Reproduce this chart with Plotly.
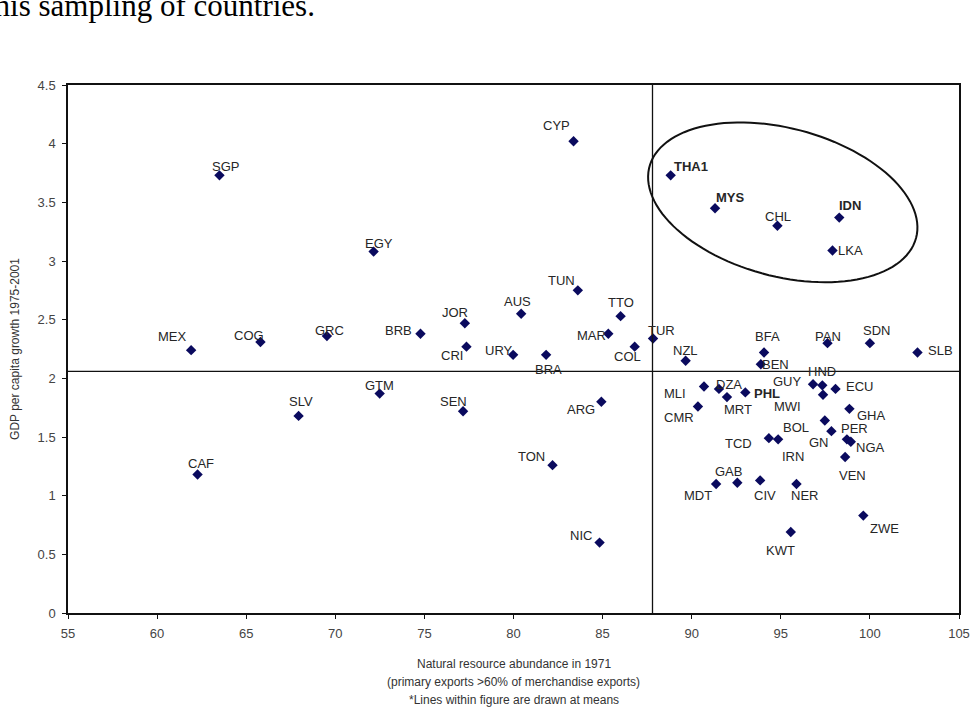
import numpy as np
import plotly.graph_objects as go

# ---------------- data ----------------
countries = ["CYP", "SGP", "EGY", "THA1", "MYS", "CHL", "IDN", "LKA", "TUN", "AUS",
             "TTO", "MAR", "TUR", "COL", "URY", "BRA", "NZL", "BFA", "BEN", "PAN",
             "SDN", "SLB", "MEX", "COG", "GRC", "BRB", "JOR", "CRI", "SLV", "GTM",
             "SEN", "CAF", "TON", "ARG", "NIC", "MLI", "DZA", "PHL", "MRT", "CMR",
             "GUY", "HND", "MWI", "ECU", "GHA", "BOL", "PER", "GN", "NGA", "TCD",
             "IRN", "VEN", "GAB", "MDT", "CIV", "NER", "KWT", "ZWE"]
resource_abundance = [83.37, 63.50, 72.15, 88.82, 91.31, 94.81, 98.28, 97.90, 83.61, 80.43,
                      86.01, 85.32, 87.83, 86.80, 79.98, 81.83, 89.66, 94.06, 93.88, 97.62,
                      100.00, 102.67, 61.91, 65.80, 69.53, 74.78, 77.27, 77.36, 67.94, 72.49,
                      77.17, 62.27, 82.19, 84.93, 84.83, 90.69, 91.53, 93.01, 91.98, 90.35,
                      96.81, 97.33, 97.37, 98.07, 98.85, 97.47, 97.84, 98.71, 98.93, 94.33,
                      94.85, 98.61, 92.56, 91.37, 93.84, 95.88, 95.56, 99.63]
gdp_growth = [4.02, 3.73, 3.08, 3.73, 3.45, 3.30, 3.37, 3.09, 2.75, 2.55,
              2.53, 2.38, 2.34, 2.27, 2.20, 2.20, 2.15, 2.22, 2.12, 2.30,
              2.30, 2.22, 2.24, 2.31, 2.36, 2.38, 2.47, 2.27, 1.68, 1.87,
              1.72, 1.18, 1.26, 1.80, 0.60, 1.93, 1.91, 1.88, 1.84, 1.76,
              1.95, 1.94, 1.86, 1.91, 1.74, 1.64, 1.55, 1.48, 1.46, 1.49,
              1.48, 1.33, 1.11, 1.10, 1.13, 1.10, 0.69, 0.83]
highlighted = ["THA1", "MYS", "IDN", "PHL"]
mean_x = 87.8
mean_y = 2.06
x_ticks = [55, 60, 65, 70, 75, 80, 85, 90, 95, 100, 105]
y_ticks = [0, 0.5, 1, 1.5, 2, 2.5, 3, 3.5, 4, 4.5]
y_tick_labels = ["0", "0.5", "1", "1.5", "2", "2.5", "3", "3.5", "4", "4.5"]

# label offsets in pixels (dx right, dy down) — styling only
label_offsets = [(-17, -16), (6, -9), (5, -8), (20, -9), (15, -11), (1, -9), (11, -12), (18, 0), (-16, -10), (-4, -12),
                 (0, -14), (-17, 2), (8, -8), (-7, 10), (-14, -4), (2, 15), (0, -10), (3, -16), (15, 0), (1, -7),
                 (7, -13), (23, -2), (-19, -14), (-11, -6), (3, -6), (-22, -3), (-10, -11), (-14, 9), (2, -14), (0, -8),
                 (-10, -10), (3, -11), (-21, -9), (-20, 8), (-19, -7), (-29, 7), (10, -4), (22, 1), (11, 12), (-19, 11),
                 (-26, -3), (0, -14), (-36, 12), (24, -2), (22, 7), (-29, 7), (23, -3), (-28, 3), (20, 6), (-30, 5),
                 (15, 17), (7, 19), (-9, -11), (-18, 12), (5, 15), (8, 12), (-10, 18), (21, 13)]

# ---------------- figure ----------------
W, H = 973, 711
ml, mr, mt, mb = 68, 14, 85, 98
x_range = [55, 105]
y_range = [0, 4.5]
px_per_x = (W - ml - mr) / (x_range[1] - x_range[0])
px_per_y = (H - mt - mb) / (y_range[1] - y_range[0])

fig = go.Figure()
fig.add_trace(go.Scatter(
    x=resource_abundance, y=gdp_growth, mode="markers",
    marker=dict(symbol="diamond", size=8, color="#0a0a5e", line=dict(width=0)),
    hoverinfo="text", text=countries, showlegend=False,
))

font_family = "Liberation Sans, Arial, sans-serif"
for c, xv, yv, (dx, dy) in zip(countries, resource_abundance, gdp_growth, label_offsets):
    txt = f"<b>{c}</b>" if c in highlighted else c
    fig.add_annotation(x=xv, y=yv, text=txt, showarrow=False,
                       xshift=dx, yshift=-dy,
                       font=dict(family=font_family, size=13, color="#262626"))

# mean lines
fig.add_shape(type="line", x0=mean_x, x1=mean_x, y0=y_range[0], y1=y_range[1],
              xref="x", yref="y", line=dict(color="#111", width=1.3))
fig.add_shape(type="line", x0=x_range[0], x1=x_range[1], y0=mean_y, y1=mean_y,
              xref="x", yref="y", line=dict(color="#111", width=1.3))

# tilted ellipse around the East-Asian group (drawn in pixel space, converted to data units)
cx, cy = 95.11, 3.50
a_px, b_px, ang = 138, 74, np.deg2rad(15)
t = np.linspace(0, 2 * np.pi, 120)
ex = a_px * np.cos(t) * np.cos(ang) - b_px * np.sin(t) * np.sin(ang)
ey = a_px * np.cos(t) * np.sin(ang) + b_px * np.sin(t) * np.cos(ang)  # screen-down positive
xs = cx + ex / px_per_x
ys = cy - ey / px_per_y
path = "M " + " L ".join(f"{a:.4f},{b:.4f}" for a, b in zip(xs, ys)) + " Z"
fig.add_shape(type="path", path=path, xref="x", yref="y",
              line=dict(color="#111", width=2))

# x-axis title lines
x_title_lines = ["Natural resource abundance in 1971",
                 "(primary exports >60% of merchandise exports)",
                 "*Lines within figure are drawn at means"]
for i, line in enumerate(x_title_lines):
    fig.add_annotation(xref="paper", yref="paper", x=0.5, y=0,
                       yshift=-51 - 18 * i, yanchor="middle",
                       text=line, showarrow=False,
                       font=dict(family=font_family, size=12, color="#333"))

# document text above the chart (cut off at left/top)
fig.add_annotation(xref="paper", yref="paper", x=(317 - ml) / (W - ml - mr), y=1,
                   xanchor="right", yanchor="bottom", yshift=mt - 25,
                   text="this sampling of countries.", showarrow=False,
                   font=dict(family="Liberation Serif, Times New Roman, serif", size=31, color="#000"))

fig.update_layout(
    width=W, height=H,
    margin=dict(l=ml, r=mr, t=mt, b=mb, autoexpand=False),
    paper_bgcolor="white", plot_bgcolor="white",
    font=dict(family=font_family, color="#333"),
    xaxis=dict(range=x_range, tickvals=x_ticks, showgrid=False, zeroline=False, automargin=False,
               showline=True, linecolor="#111", linewidth=1.5, mirror=True,
               ticks="outside", ticklen=4, tickcolor="#111", ticklabelstandoff=4,
               tickfont=dict(size=13, color="#444")),
    yaxis=dict(range=y_range, tickvals=y_ticks, ticktext=y_tick_labels, showgrid=False, zeroline=False,
               automargin=False,
               showline=True, linecolor="#111", linewidth=1.5, mirror=True,
               ticks="outside", ticklen=4, tickcolor="#111", ticklabelstandoff=4,
               tickfont=dict(size=13, color="#444"),
               title=dict(text="GDP per capita growth 1975-2001", standoff=15,
                          font=dict(size=12, color="#333"))),
)

# remove the page's default body margin so the figure fills the window exactly
fig.write_html("out.html", config={"displayModeBar": False},
               post_script="document.body.style.margin='0';document.body.style.overflow='hidden';")
